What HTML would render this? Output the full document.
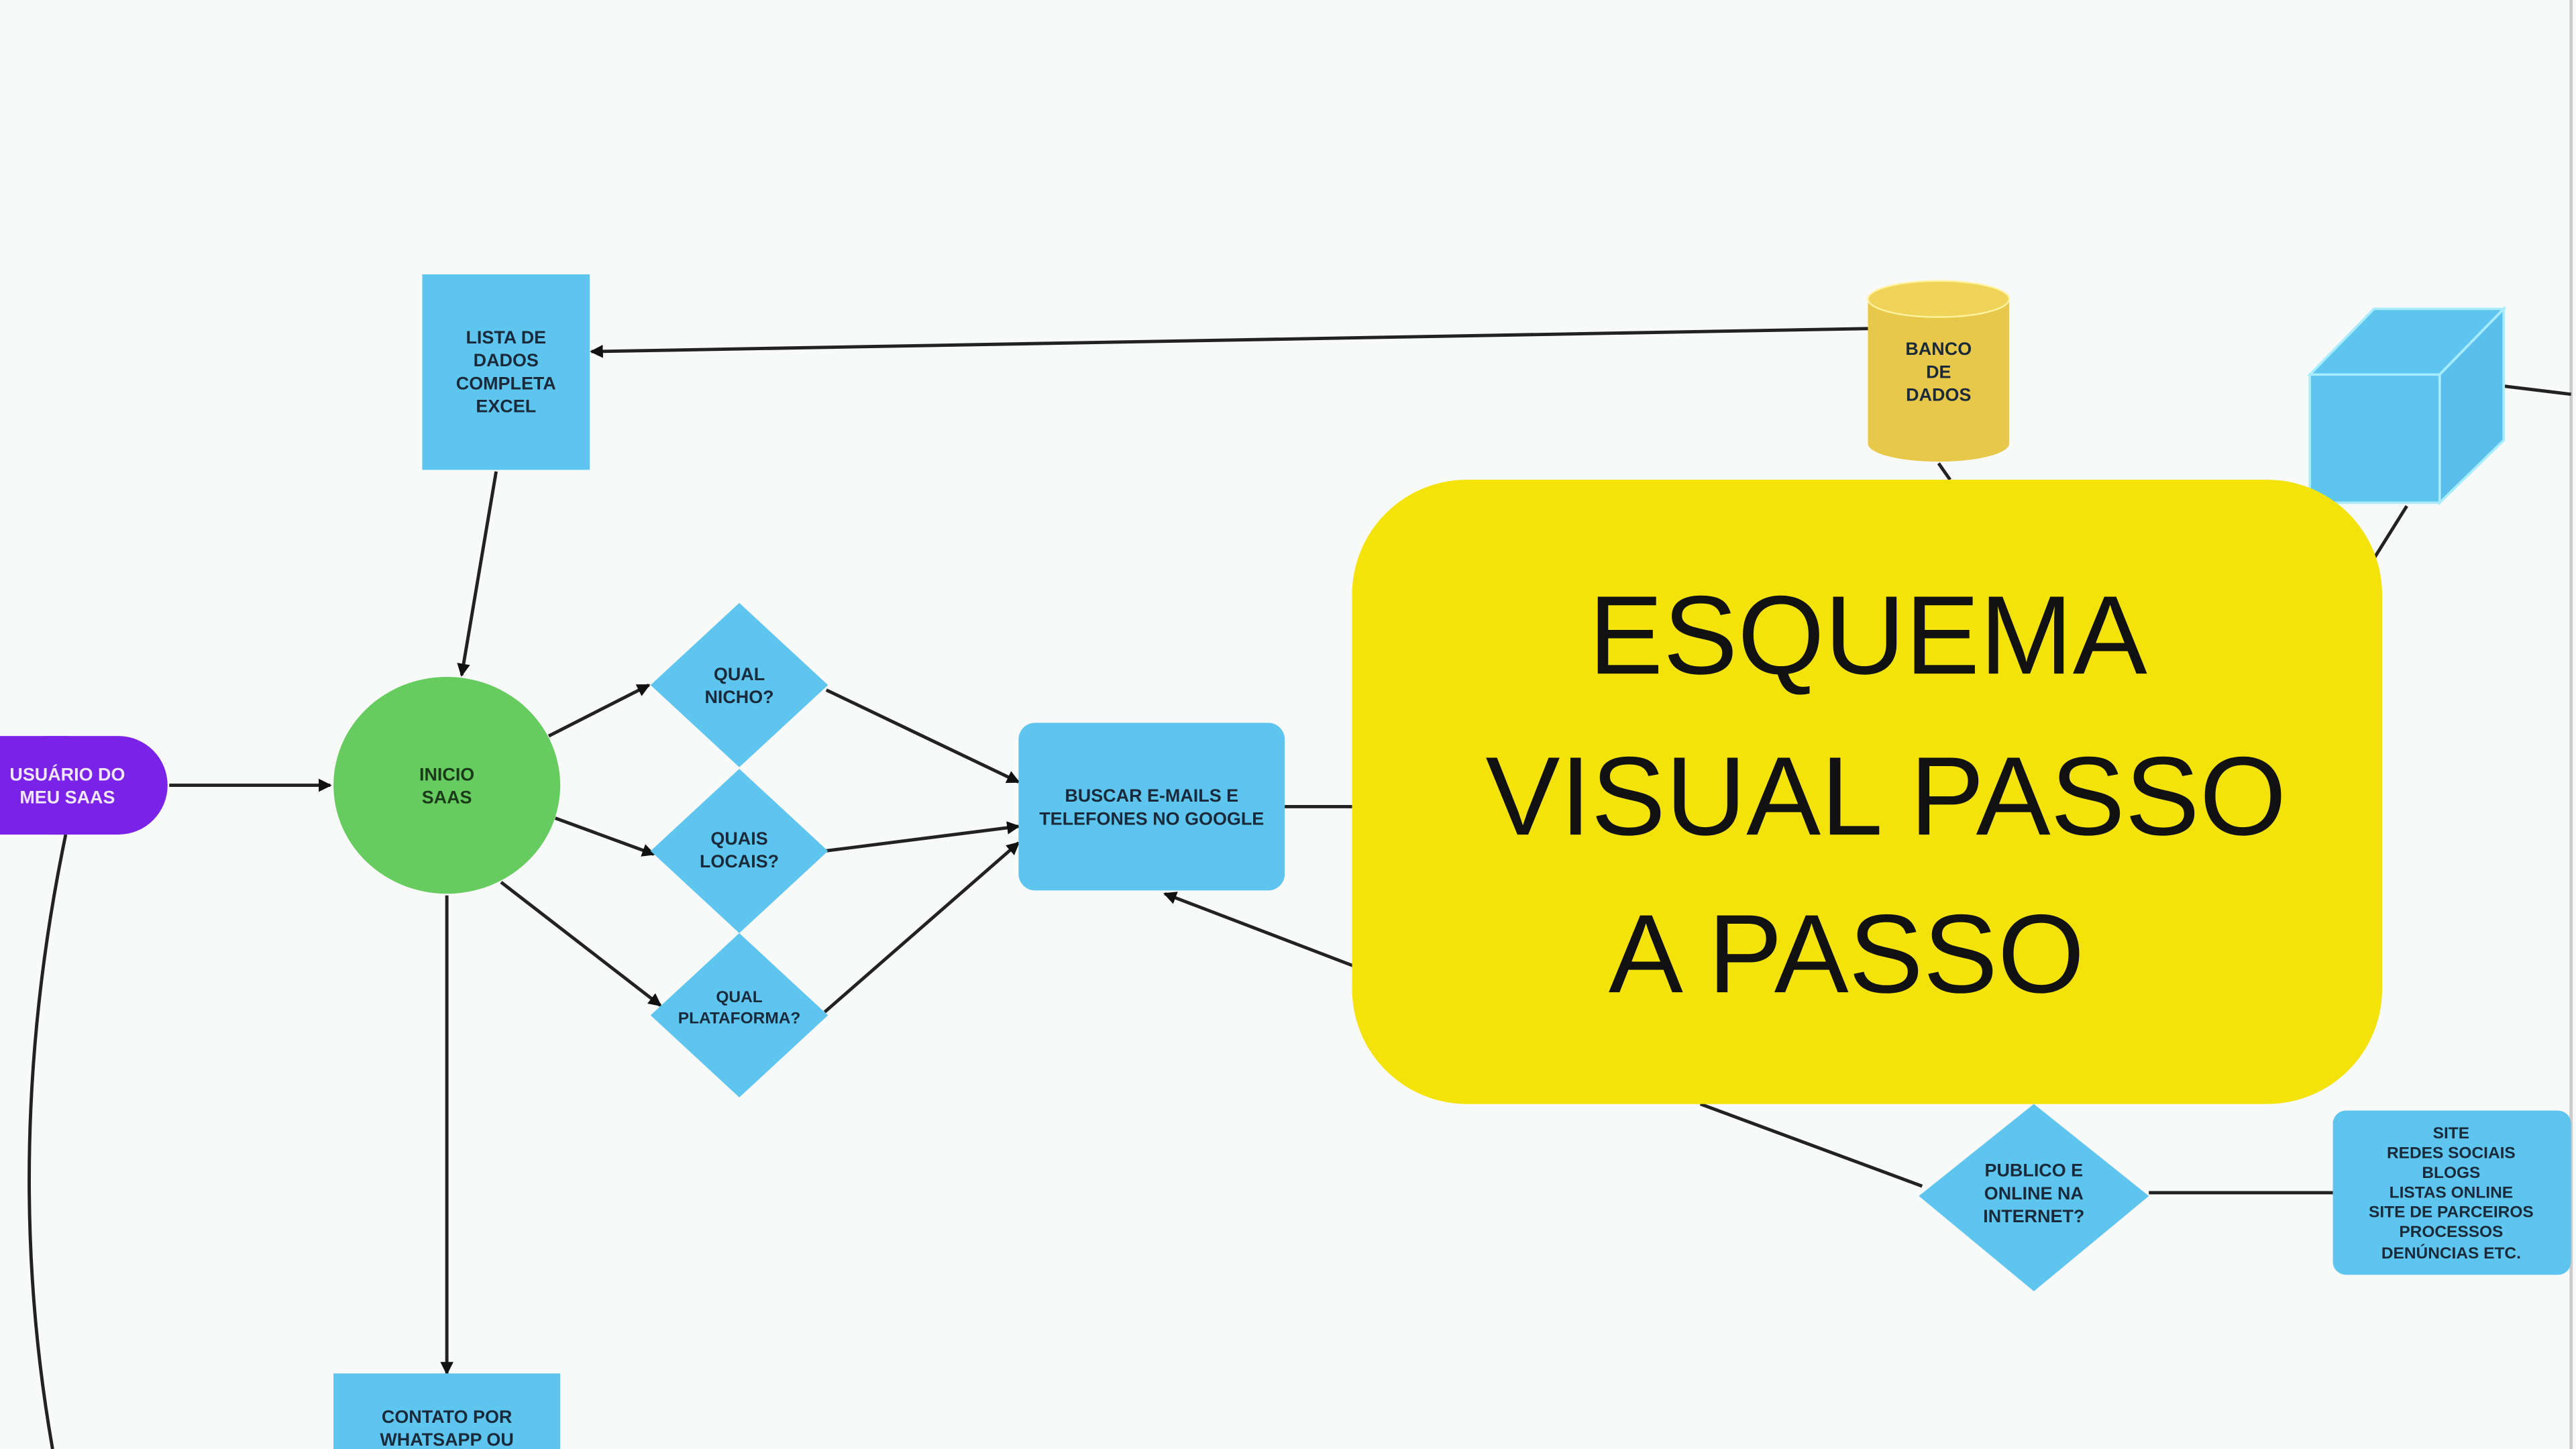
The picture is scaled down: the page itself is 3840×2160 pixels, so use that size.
<!DOCTYPE html>
<html><head><meta charset="utf-8"><style>
html,body{margin:0;padding:0;background:#f8f9f9;}
svg{display:block;}
text{font-family:"Liberation Sans",sans-serif;font-weight:bold;}
.s{font-size:11px;fill:#1a2a3a;text-anchor:middle;}
</style></head><body>
<svg width="3840" height="2160" viewBox="0 0 1568 882" xmlns="http://www.w3.org/2000/svg">
<defs><marker id="a" markerWidth="8" markerHeight="8" refX="7" refY="4" orient="auto" markerUnits="userSpaceOnUse"><path d="M0,0 L8,4 L0,8z" fill="#111"/></marker></defs>
<rect width="1568" height="882" fill="#f8f9f9"/>
<line x1="1565" y1="0" x2="1565" y2="882" stroke="#ccc" stroke-width="2"/>
<g stroke="#222" stroke-width="2" fill="none">
<line x1="1137" y1="200" x2="360" y2="214" marker-end="url(#a)"/>
<line x1="302" y1="287" x2="281" y2="411" marker-end="url(#a)"/>
<line x1="103" y1="478" x2="201" y2="478" marker-end="url(#a)"/>
<line x1="334" y1="448" x2="395" y2="417" marker-end="url(#a)"/>
<line x1="338" y1="498" x2="398" y2="520" marker-end="url(#a)"/>
<line x1="305" y1="537" x2="402" y2="612" marker-end="url(#a)"/>
<line x1="503" y1="420" x2="620" y2="476" marker-end="url(#a)"/>
<line x1="502" y1="518" x2="620" y2="503" marker-end="url(#a)"/>
<line x1="502" y1="616" x2="620" y2="513" marker-end="url(#a)"/>
<line x1="272" y1="545" x2="272" y2="836" marker-end="url(#a)"/>
<line x1="824" y1="588" x2="709" y2="544" marker-end="url(#a)"/>
<line x1="782" y1="491" x2="824" y2="491"/>
<path d="M40,508 Q0,700 32,882"/>
<line x1="1180" y1="282" x2="1187" y2="292"/>
<line x1="1465" y1="308" x2="1445" y2="340"/>
<line x1="1524" y1="235" x2="1565" y2="240"/>
<line x1="1035" y1="672" x2="1170" y2="722"/>
<line x1="1308" y1="726" x2="1420" y2="726"/>
</g>
<rect x="257" y="167" width="102" height="119" fill="#5ec5ef"/>
<text class="s"><tspan x="308" y="209">LISTA DE</tspan><tspan x="308" y="223">DADOS</tspan><tspan x="308" y="237">COMPLETA</tspan><tspan x="308" y="251">EXCEL</tspan></text>
<rect x="0" y="448" width="102" height="60" rx="30" fill="#7a22e8"/>
<rect x="-20" y="448" width="60" height="60" fill="#7a22e8"/>
<text class="s" style="fill:#f0e6ff"><tspan x="41" y="475">USUÁRIO DO</tspan><tspan x="41" y="489">MEU SAAS</tspan></text>
<ellipse cx="272" cy="478" rx="69" ry="66" fill="#66cc5f"/>
<text class="s" style="fill:#1a3a1a"><tspan x="272" y="475">INICIO</tspan><tspan x="272" y="489">SAAS</tspan></text>
<polygon points="450,367 504,417 450,467 396,417" fill="#5ec5ef"/>
<text class="s"><tspan x="450" y="414">QUAL</tspan><tspan x="450" y="428">NICHO?</tspan></text>
<polygon points="450,468 504,518 450,568 396,518" fill="#5ec5ef"/>
<text class="s"><tspan x="450" y="514">QUAIS</tspan><tspan x="450" y="528">LOCAIS?</tspan></text>
<polygon points="450,568 504,618 450,668 396,618" fill="#5ec5ef"/>
<text class="s" style="font-size:10px"><tspan x="450" y="610">QUAL</tspan><tspan x="450" y="623">PLATAFORMA?</tspan></text>
<rect x="620" y="440" width="162" height="102" rx="10" fill="#5ec5ef"/>
<text class="s"><tspan x="701" y="488">BUSCAR E-MAILS E</tspan><tspan x="701" y="502">TELEFONES NO GOOGLE</tspan></text>
<rect x="203" y="836" width="138" height="60" fill="#5ec5ef"/>
<text class="s"><tspan x="272" y="866">CONTATO POR</tspan><tspan x="272" y="880">WHATSAPP OU</tspan></text>
<path d="M1137,182 L1137,270 A43,11 0 0 0 1223,270 L1223,182z" fill="#e8c84a"/>
<ellipse cx="1180" cy="182" rx="43" ry="11" fill="#f0d45a" stroke="#fff3a0" stroke-width="1"/>
<text class="s"><tspan x="1180" y="216">BANCO</tspan><tspan x="1180" y="230">DE</tspan><tspan x="1180" y="244">DADOS</tspan></text>
<polygon points="1406,228 1445,188 1524,188 1485,228" fill="#5ec5ef" stroke="#a8ecff" stroke-width="1.5"/>
<polygon points="1485,228 1524,188 1524,268 1485,306" fill="#5bbfec" stroke="#a8ecff" stroke-width="1.5"/>
<rect x="1406" y="228" width="79" height="78" fill="#5ec5ef" stroke="#a8ecff" stroke-width="1.5"/>
<rect x="823" y="292" width="627" height="380" rx="70" fill="#f3e30b"/>
<text x="1137" y="410" text-anchor="middle" style="font-size:68px;font-weight:normal;font-family:'Liberation Sans',sans-serif" fill="#111">ESQUEMA</text>
<text x="1148" y="508" text-anchor="middle" style="font-size:68px;font-weight:normal" fill="#111">VISUAL PASSO</text>
<text x="1124" y="604" text-anchor="middle" style="font-size:68px;font-weight:normal" fill="#111">A PASSO</text>
<polygon points="1238,672 1308,728 1238,786 1168,728" fill="#5ec5ef"/>
<text class="s"><tspan x="1238" y="716">PUBLICO E</tspan><tspan x="1238" y="730">ONLINE NA</tspan><tspan x="1238" y="744">INTERNET?</tspan></text>
<rect x="1420" y="676" width="145" height="100" rx="8" fill="#5ec5ef"/>
<text class="s" style="font-size:10px"><tspan x="1492" y="693">SITE</tspan><tspan x="1492" y="705">REDES SOCIAIS</tspan><tspan x="1492" y="717">BLOGS</tspan><tspan x="1492" y="729">LISTAS ONLINE</tspan><tspan x="1492" y="741">SITE DE PARCEIROS</tspan><tspan x="1492" y="753">PROCESSOS</tspan><tspan x="1492" y="766">DENÚNCIAS ETC.</tspan></text>
</svg>
</body></html>
